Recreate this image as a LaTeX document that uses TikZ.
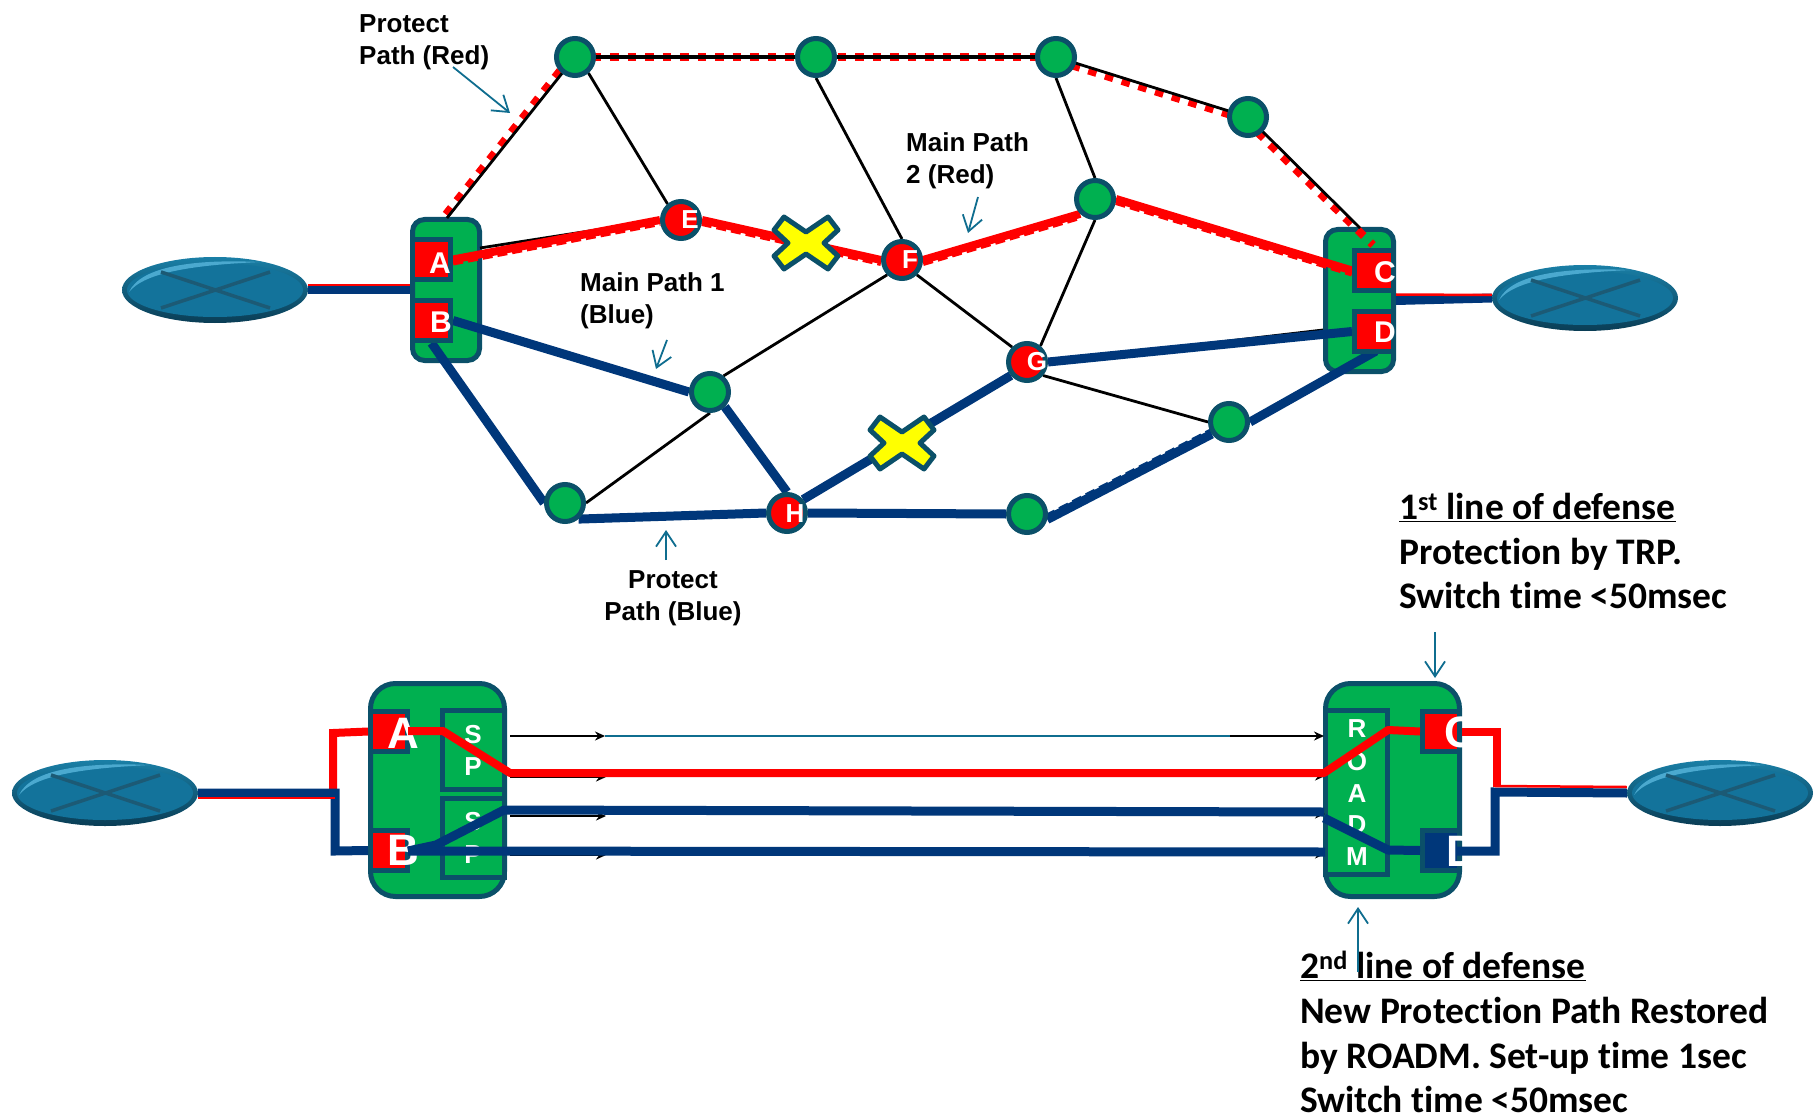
\documentclass[tikz,border=0pt]{standalone}
\usepackage{fontspec}
\setmainfont{Liberation Sans}
\newfontfamily\carl[Ligatures=NoCommon]{Carlito}
\usetikzlibrary{arrows.meta,shapes.geometric}
\definecolor{gr}{HTML}{00B050}
\definecolor{tl}{HTML}{0B5069}
\definecolor{nv}{HTML}{00377A}
\definecolor{rd}{HTML}{FF0000}
\definecolor{yl}{HTML}{FFFF00}
\definecolor{ar}{HTML}{0F6D8F}
\definecolor{rimt}{HTML}{1A7FA6}
\definecolor{rimb}{HTML}{0A3D55}
\definecolor{bodyc}{HTML}{13739B}
\definecolor{hic}{HTML}{4BA9CF}
\definecolor{xc}{HTML}{1C5A75}
\pgfdeclarelayer{boxes}
\pgfdeclarelayer{wires}
\pgfsetlayers{boxes,wires,main}
\tikzset{
  x=1pt,y=-1pt,
  gbox/.style={draw=tl,fill=gr,line width=5pt,rounded corners=#1,rectangle,inner sep=0pt},
  port/.style={draw=tl,fill=rd,line width=5pt,rectangle,inner sep=0pt,minimum width=38pt,minimum height=40pt},
  sub/.style={draw=tl,fill=gr,line width=5pt,rectangle,inner sep=0pt},
  greennode/.style={circle,draw=tl,fill=gr,line width=5pt,minimum size=37pt,inner sep=0pt},
  rednode/.style={circle,draw=tl,fill=rd,line width=5pt,minimum size=37pt,inner sep=0pt},
  plab/.style={text=white,font=\bfseries\fontsize{30}{30}\selectfont,inner sep=0pt},
  clab/.style={text=white,font=\bfseries\fontsize{26}{26}\selectfont,inner sep=0pt},
  biglab/.style={text=white,font=\bfseries\fontsize{44}{44}\selectfont,inner sep=0pt},
  sublab/.style={text=white,font=\bfseries\fontsize{26}{26}\selectfont,inner sep=0pt},
  lbl/.style={font=\bfseries\fontsize{26}{32}\selectfont,align=left,inner sep=0pt,anchor=north west},
  note/.style={font=\carl\bfseries\fontsize{37.5}{44.7}\selectfont,align=left,inner sep=0pt,anchor=north west},
  thin line/.style={draw=black,line width=2.8pt},
  toprow/.style={draw=black,line width=3.5pt},
  redw/.style={draw=rd,line width=8pt},
  redtrim/.style={draw=rd,line width=6pt,dash pattern=on 10pt off 5pt},
  redd/.style={draw=rd,line width=8pt,dash pattern=on 8.5pt off 9pt},
  navw/.style={draw=nv,line width=9pt},
  navtrim/.style={draw=nv,line width=5pt,dash pattern=on 10pt off 5pt},
  callout/.style={draw=ar,line width=1.8pt,-{Straight Barb[length=15pt,width=20pt,line width=1.8pt]}},
  tinyarrow/.style={draw=black,line width=2pt,-{Stealth[length=10pt,width=9pt]}},
  xshape/.style={draw=tl,fill=yl,line width=5pt,line join=round},
  router/.pic={
    \node[ellipse,top color=rimt,bottom color=rimb,minimum width=186pt,minimum height=66pt,inner sep=0pt] (-e) at (0,0) {};
    \fill[bodyc] (0,0) ellipse [x radius=88pt,y radius=27pt];
    \fill[hic] (-86,2) .. controls (-74,-24) and (-20,-31) .. (45,-28) .. controls (-20,-25) and (-70,-18) .. (-86,2) -- cycle;
    \draw[xc,line width=3.5pt] (-54,-18) -- (55,18) (-54,18) -- (55,-18);
  }
}
\begin{document}
\begin{tikzpicture}
\useasboundingbox (0,0) rectangle (1820,1115);

\begin{pgfonlayer}{boxes}
\node[gbox=12pt,minimum width=67pt,minimum height=141pt] (tl) at (446,290) {};
\node[gbox=12pt,minimum width=68pt,minimum height=142pt] (tr) at (1359.5,300.5) {};
\node[gbox=25pt,minimum width=134pt,minimum height=213pt] (bl) at (437.5,790) {};
\node[gbox=25pt,minimum width=134pt,minimum height=213pt] (br) at (1392.5,790) {};
\end{pgfonlayer}

\pic (el1) at (215,290) {router};
\pic (el2) at (1585,298) {router};
\pic (el3) at (105,793) {router};
\pic (el4) at (1720,793) {router};

\node[port] (A) at (431.5,259.5) {};
\node[port] (B) at (431.5,320.5) {};
\node[port,minimum width=39pt] (C) at (1374,270.5) {};
\node[port,minimum width=39pt] (D) at (1374,331.5) {};
\node[plab] (At) at (440,263) {A};
\node[plab] (Bt) at (441,322) {B};
\node[plab] (Ct) at (1385,272) {C};
\node[plab] (Dt) at (1385,332) {D};

\node[greennode] (n1) at (575,57) {};
\node[greennode] (n2) at (816,57) {};
\node[greennode] (n3) at (1056,57) {};
\node[greennode] (n4) at (1248,117) {};
\node[greennode] (n5) at (1095,199) {};
\node[greennode] (n6) at (710,392) {};
\node[greennode] (n7) at (565,503) {};
\node[greennode] (n8) at (1027,514) {};
\node[greennode] (n9) at (1229,422) {};
\node[rednode] (E) at (681,220) {};
\node[rednode] (F) at (902,260) {};
\node[rednode] (G) at (1027,362) {};
\node[rednode] (H) at (787,513) {};
\node[clab] (Et) at (690,220) {E};
\node[clab] (Ft) at (910,260) {F};
\node[clab] (Gt) at (1037,362) {G};
\node[clab] (Ht) at (795,514) {H};

\coordinate (ablack) at (480,248);
\coordinate (atop) at (447,218);
\coordinate (ctop) at (1360,228);
\coordinate (cdash) at (1373,245);
\coordinate (dblack) at (1323,330);
\coordinate (tlstem) at (431.5,343);
\coordinate (drt) at (1376,351);

\begin{pgfonlayer}{wires}
\draw[redd] ([xshift=-4pt]n1.center) -- ([xshift=-4pt]atop);
\draw[redd] (n1.center) -- (n2.center) -- (n3.center);
\draw[redd] ([xshift=-1pt,yshift=-3pt]n3.center) -- ([xshift=-1pt,yshift=-3pt]n4.center);
\draw[redd] ([xshift=-3pt,yshift=-3pt]n4.center) -- (cdash);
\draw[thin line] (n1.center) -- (atop);
\draw[toprow] (n1.center) -- (n2.center) -- (n3.center);
\draw[thin line] (n3.center) -- (n4.center) -- (ctop);
\draw[thin line] (n1.-50) -- (E.130);
\draw[thin line] (n2.south) -- (F.north);
\draw[thin line] (n3.south) -- (n5.north);
\draw[thin line] (n5.south) -- (G.50);
\draw[thin line] (F.-45) -- (G.135);
\draw[thin line] (F.225) -- (n6.50);
\draw[thin line] (n6.south) -- (n7.east);
\draw[thin line] (G.-40) -- (n9.west);
\draw[thin line] (ablack) -- (E.west);
\draw[thin line] (G.east) -- (dblack);
\draw[redw] (A.east) -- (E.west);
\draw[redw] (E.east) -- (F.west);
\draw[redw] (F.east) -- (n5.-135);
\draw[redw] (n5.east) -- (C.west);
\draw[redtrim] ([yshift=-3pt]A.east) -- ([yshift=-3pt]E.west);
\draw[redtrim] ([yshift=-3pt]E.east) -- ([yshift=-3pt]F.west);
\draw[redtrim] ([yshift=-3pt]F.east) -- ([yshift=-3pt]n5.-135);
\draw[redtrim] ([yshift=-3pt]n5.east) -- ([yshift=-3pt]C.west);
\draw[navw] (B.east) -- (n6.west);
\draw[navw] (tlstem) -- (n7.west);
\draw[navw] (n6.-45) -- (H.north);
\draw[navw] (n7.-50) -- (H.west);
\draw[navw] (H.east) -- (n8.west);
\draw[navw] (n8.-15) -- (n9.-145);
\draw[navtrim] ([xshift=-1pt,yshift=3pt]n8.-15) -- ([xshift=-1pt,yshift=3pt]n9.-145);
\draw[navw] (n9.east) -- (drt);
\draw[navw] (H.40) -- (G.220);
\draw[navw] (G.east) -- (D.west);
\draw[navw] (el1-e.east) -- (tl.west);
\draw[draw=rd,line width=2.5pt] ([yshift=5pt]el1-e.east) -- ([yshift=5pt]tl.west);
\draw[navw] (tr.east) -- (el2-e.west);
\draw[draw=rd,line width=2.5pt] ([yshift=6pt]tr.east) -- ([yshift=3pt]el2-e.west);
\end{pgfonlayer}

\draw[xshape] (806,232) -- (828,217) -- (838,230) -- (824,243) -- (838,256) -- (828,269) -- (806,254) -- (784,269) -- (774,256) -- (788,243) -- (774,230) -- (784,217) -- cycle;
\draw[xshape] (902,432) -- (924,417) -- (934,430) -- (920,443) -- (934,456) -- (924,469) -- (902,454) -- (880,469) -- (870,456) -- (884,443) -- (870,430) -- (880,417) -- cycle;

\node[sub,minimum width=62pt,minimum height=79pt] (sp1) at (473.5,750) {};
\node[sub,minimum width=62pt,minimum height=79pt] (sp2) at (473.5,838) {};
\node[sub,minimum width=62pt,minimum height=164pt] (roadm) at (1356.5,792.5) {};
\node[port,minimum width=37pt] (lA) at (389,731.5) {};
\node[port,minimum width=37pt] (lB) at (389,850.5) {};
\node[port,minimum width=37pt] (lC) at (1441,731.5) {};
\node[port,fill=nv,minimum width=37pt] (lD) at (1441,850.5) {};
\node[biglab] (lAt) at (403,733) {A};
\node[biglab] (lBt) at (403,850) {B};
\begin{scope}
\clip (1400,690) rectangle (1464,890);
\node[biglab] (lCt) at (1460,732) {C};
\node[biglab] (lDt) at (1462,851) {D};
\end{scope}
\node[sublab] (s1) at (473,735) {S};
\node[sublab] (p1) at (473,767) {P};
\node[sublab] (s2) at (473,822) {S};
\node[sublab] (p2) at (473,855) {P};
\node[sublab] (ro1) at (1357,729) {R};
\node[sublab] (ro2) at (1357,762) {O};
\node[sublab] (ro3) at (1357,794) {A};
\node[sublab] (ro4) at (1357,825) {D};
\node[sublab] (ro5) at (1357,857) {M};

\coordinate (ltr) at (333,733);
\coordinate (ljr) at (333,792);
\coordinate (ljn) at (335,793);
\coordinate (lbn) at (335,851);
\coordinate (lae) at (408,731);
\coordinate (lsr) at (443,731);
\coordinate (lsr2) at (510,773);
\coordinate (rin) at (1324,773);
\coordinate (rs) at (1388,730);
\coordinate (lbe) at (408,851);
\coordinate (lbk) at (436,845);
\coordinate (lbu) at (504,810);
\coordinate (rnin) at (1324,812);
\coordinate (rnin2) at (1324,818);
\coordinate (rnk) at (1388,850);
\coordinate (rnin3) at (1325,852);
\coordinate (rce) at (1462,732);
\coordinate (rcb) at (1497,732);
\coordinate (rcd) at (1497,787);
\coordinate (rde) at (1456,851);
\coordinate (rdb) at (1495,851);
\coordinate (rdu) at (1495,792);
\coordinate (t1) at (510,736);
\coordinate (t2) at (605,736);
\coordinate (t3) at (1230,736);
\coordinate (t4) at (1324,736);
\coordinate (h1a) at (510,777);
\coordinate (h1b) at (606,777);
\coordinate (h2a) at (510,816);
\coordinate (h2b) at (606,816);
\coordinate (h3a) at (510,855);
\coordinate (h3b) at (606,855);
\coordinate (h4a) at (1230,776);
\coordinate (h4b) at (1325,776);
\coordinate (h5a) at (1230,814);
\coordinate (h5b) at (1325,814);
\coordinate (h6a) at (1230,854);
\coordinate (h6b) at (1325,854);

\draw[draw=ar,line width=1.8pt] (t2) -- (t3);
\draw[tinyarrow] (t1) -- (t2);
\draw[tinyarrow] (t3) -- (t4);
\draw[tinyarrow] (h1a) -- (h1b);
\draw[tinyarrow] (h2a) -- (h2b);
\draw[tinyarrow] (h3a) -- (h3b);
\draw[tinyarrow] (h4a) -- (h4b);
\draw[tinyarrow] (h5a) -- (h5b);
\draw[tinyarrow] (h6a) -- (h6b);

\draw[redw,line join=miter] (ljr) -- (ltr) -- (lA.west);
\draw[navw,line join=miter] (el3-e.east) -- (ljn) -- (lbn) -- (lB.west);
\draw[draw=rd,line width=1.2pt] ([yshift=-5pt]el3-e.east) -- ([yshift=-5pt]ljn);
\draw[redw,line join=round] (lae) -- (lsr) -- (lsr2) -- (rin) -- (rs) -- (lC.west);
\draw[navw,line join=round] (lbe) -- (rnin3);
\draw[navw,line join=round] (lbe) -- (lbk) -- (lbu) -- (rnin);
\draw[navw,line join=round] (rnin2) -- (rnk) -- (lD.west);
\draw[redw,line join=miter] (rce) -- (rcb) -- (rcd);
\draw[navw,line join=miter] (rde) -- (rdb) -- (rdu) -- (el4-e.west);
\draw[draw=rd,line width=2.5pt] ([yshift=6pt]rdu) -- ([yshift=6pt]el4-e.west);

\node[lbl] (l1) at (359,14.5) {Protect\\Path (Red)};
\node[lbl] (l2) at (906,132) {Main Path\\2 (Red)};
\node[lbl] (l3) at (580,272) {Main Path 1\\(Blue)};
\node[lbl,align=center,anchor=north] (l4) at (673,570) {Protect\\Path (Blue)};
\node[note] (n1st) at (1399,493) {\underline{1\textsuperscript{st} line of defense}\\Protection by TRP.\\Switch time <50msec};
\node[note] (n2nd) at (1300,951) {\underline{2\textsuperscript{nd} line of defense}\\New Protection Path Restored\\by ROADM. Set-up time 1sec\\Switch time <50msec};

\coordinate (c1a) at (453,67);
\coordinate (c1b) at (510,113);
\coordinate (c2a) at (978,197);
\coordinate (c2b) at (968,233);
\coordinate (c3a) at (667,340);
\coordinate (c3b) at (656,369);
\coordinate (c4a) at (666,560);
\coordinate (c4b) at (666,530);
\coordinate (c5a) at (1435,632);
\coordinate (c5b) at (1435,678);
\coordinate (c6a) at (1358,972);
\coordinate (c6b) at (1358,907);
\draw[callout] (c1a) -- (c1b);
\draw[callout] (c2a) -- (c2b);
\draw[callout] (c3a) -- (c3b);
\draw[callout] (c4a) -- (c4b);
\draw[callout] (c5a) -- (c5b);
\draw[callout] (c6a) -- (c6b);
\end{tikzpicture}
\end{document}
